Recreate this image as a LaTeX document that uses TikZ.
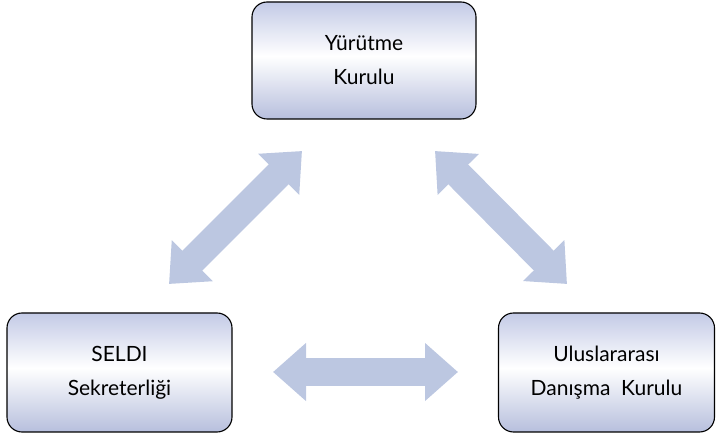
\documentclass[tikz,border=0pt]{standalone}
\usepackage{fontspec}
\setmainfont{Lato}
\usetikzlibrary{arrows.meta}

\definecolor{lavtop}{HTML}{C3CAE6}
\definecolor{lavbot}{HTML}{B7BFDD}
\definecolor{arrowblue}{HTML}{BCC7E1}
\pgfdeclareverticalshading{boxshade}{100bp}{color(0bp)=(lavbot); color(25bp)=(lavbot);
  color(52bp)=(white); color(75bp)=(lavtop); color(100bp)=(lavtop)}

\tikzset{
  unit/.style={draw=black, line width=1.1pt, rounded corners=15pt, shading=boxshade,
    align=center, font=\fontsize{21}{34}\selectfont, inner sep=0pt},
  bigarrow/.style={arrowblue, line width=28pt,
    {Triangle[width=56pt,length=33pt]}-{Triangle[width=56pt,length=33pt]}}
}

\begin{document}
\begin{tikzpicture}[x=1pt,y=-1pt]
            \useasboundingbox (0,0) rectangle (716,438);

            \node[unit, minimum width=224pt, minimum height=117pt] (yurutme) at (364,60.5) {Yürütme\\Kurulu};
            \node[unit, minimum width=225pt, minimum height=119pt] (seldi) at (119.5,372.5) {SELDI\\Sekreterliği};
            \node[unit, minimum width=216pt, minimum height=119pt] (danisma) at (606.5,372.5) {Uluslararası\\Danışma\ \ Kurulu};

            \coordinate (ls) at (169,284);
            \coordinate (lt) at (302,151);
            \coordinate (rt) at (435,151);
            \coordinate (rs) at (567,284);
            \coordinate (hl) at (273,372);
            \coordinate (hr) at (458,372);

            \draw[bigarrow] (ls) -- (lt);
            \draw[bigarrow] (rt) -- (rs);
            \draw[bigarrow] (hl) -- (hr);
        \end{tikzpicture}
\end{document}
